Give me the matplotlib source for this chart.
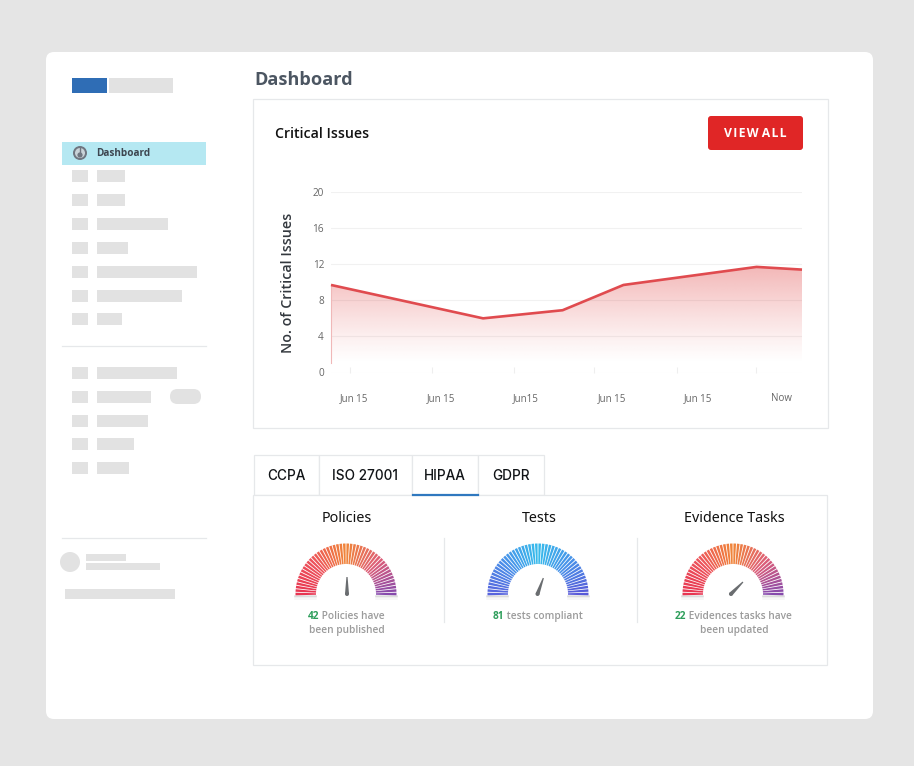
import numpy as np
import matplotlib
matplotlib.use("Agg")
import matplotlib.pyplot as plt
from matplotlib.collections import PolyCollection
from matplotlib.colors import LinearSegmentedColormap
from matplotlib.patches import Rectangle, FancyBboxPatch, Circle, Polygon

W, H = 914, 766

# line chart
line_x = [-0.234, 1.64, 2.62, 3.37, 5.01, 5.57]
line_y = [9.7, 6.0, 6.9, 9.7, 11.7, 11.4]
x_tick_pos = [0, 1.01, 2.02, 3.01, 4.03, 5.0]
x_label_pos = [0.05, 1.12, 2.17, 3.23, 4.29, 5.32]
x_labels = ["Jun 15", "Jun 15", "Jun15", "Jun 15", "Jun 15", "Now"]
y_ticks = [0, 4, 8, 12, 16, 20]

# tabs
tab_names = ["CCPA", "ISO 27001", "HIPAA", "GDPR"]
tab_edges = [254, 319, 412, 478, 544]

# gauges
gauge_titles = ["Policies", "Tests", "Evidence Tasks"]
gauge_centers = [346, 538, 733]
gauge_counts = ["42", "81", "22"]
gauge_line1 = [" Policies have", " tests compliant", " Evidences tasks have"]
gauge_line2 = ["been published", "", "been updated"]
needle_angles = [90, 70, 45]
warm = ["#e62a48", "#ec4a52", "#f07f2e", "#dc5570", "#8040a8"]
cool = ["#4f5cdc", "#3f8ce8", "#2cb8ea", "#3f8ce8", "#4f50d6"]
gauge_colors = [warm, cool, warm]

# sidebar placeholder bars, right edges
nav_top_y = [176, 200, 224, 248, 272, 296, 319]
nav_top_end = [125, 125, 168, 128, 197, 182, 122]
nav_low_y = [373, 397, 421, 444, 468]
nav_low_end = [177, 151, 148, 134, 129]

GREY = "#e2e2e2"
LINE = "#e6e8ea"

fig = plt.figure(figsize=(W / 100, H / 100), dpi=100, facecolor="#e5e5e5")
bg = fig.add_axes([0, 0, 1, 1])
bg.set_xlim(0, W)
bg.set_ylim(H, 0)
bg.axis("off")


def box(x0, y0, x1, y1, color=GREY, **kw):
    bg.add_patch(Rectangle((x0, y0), x1 - x0, y1 - y0, fc=color, ec="none", **kw))


def rounded(x0, y0, x1, y1, rad, color):
    bg.add_patch(FancyBboxPatch((x0, y0), x1 - x0, y1 - y0, boxstyle=f"round,pad=0,rounding_size={rad}",
                                fc=color, ec="none"))


def card(x0, y0, x1, y1):
    bg.add_patch(Rectangle((x0, y0), x1 - x0, y1 - y0, fc="white", ec=LINE, lw=0.9))


def run_text(x, y, parts, size):
    # text runs of different colour on one line, centred on x
    r = fig.canvas.get_renderer()
    items = [bg.text(0, y, s, color=c, fontsize=size, fontweight=w, family="Open Sans",
                     va="baseline", ha="left") for s, c, w in parts]
    widths = [t.get_window_extent(r).width for t in items]
    cur = x - sum(widths) / 2
    for t, w in zip(items, widths):
        t.set_x(cur)
        cur += w


# page panel
rounded(46, 52, 873, 719, 8, "white")

# sidebar
box(72, 78, 107, 93, "#2f6db5")
box(109, 78, 173, 93)
box(62, 142, 206, 165, "#b5e8f2")
bg.add_patch(Circle((80, 153), 7, fc="#6f7680", ec="none"))
bg.add_patch(Circle((80, 153), 5, fc="#c9d3d8", ec="none"))
bg.add_patch(Circle((80, 155), 2.6, fc="#6f7680", ec="none"))
bg.plot([80, 80], [148, 153], color="#6f7680", lw=1)
bg.text(96, 153.5, "Dashboard", fontsize=7.2, fontweight="bold", family="Open Sans",
        color="#3d4650", va="center")
for yc, end in zip(nav_top_y + nav_low_y, nav_top_end + nav_low_end):
    box(72, yc - 6, 88, yc + 6)
    box(97, yc - 6, end, yc + 6)
bg.plot([62, 206], [346, 346], color=LINE, lw=0.9)
bg.plot([62, 206], [538, 538], color=LINE, lw=0.9)
rounded(170, 389, 201, 404, 7.5, GREY)
bg.add_patch(Circle((70, 562), 10, fc=GREY, ec="none"))
box(86, 554, 126, 561)
box(86, 563, 160, 570)
box(65, 589, 175, 599)

# header and chart card
bg.text(254, 80, "Dashboard", fontsize=13.1, fontweight="bold", family="Open Sans",
        color="#4c5662", va="center")
card(253, 99, 828, 428)
bg.text(275, 133.5, "Critical Issues", fontsize=10.2, fontweight="semibold", family="Open Sans",
        color="#111111", va="center")
rounded(708, 116, 803, 150, 3, "#e02626")
bg.text(755.5, 133.5, "V I E W  A L L".replace(" ", "\u200a").replace("\u200a\u200a", " "),
        fontsize=8.8, fontweight="bold", family="Open Sans", color="white", ha="center", va="center")
bg.text(288, 282.5, "No. of Critical Issues", fontsize=10.3, fontweight="semibold", family="Open Sans",
        color="#33383e", rotation=90, ha="center", va="center")

# line chart axes, pixels 331..802 by 192..372.5
ax = fig.add_axes([331 / W, 1 - 372.5 / H, 471 / W, 180.5 / H])
ax.patch.set_alpha(0)
for s in ax.spines.values():
    s.set_visible(False)
ax.set_yticks(y_ticks)
ax.grid(axis="y", color="#f1f1f1", lw=0.8)
ax.set_axisbelow(True)
ax.tick_params(axis="y", length=0, pad=5, labelsize=7.2, labelcolor="#666666")
ax.set_xticks(x_label_pos)
ax.set_xticklabels(x_labels, fontsize=7, color="#666666", family="Open Sans")
ax.tick_params(axis="x", length=0, pad=15)
ax.set_xticks(x_tick_pos, minor=True)
ax.tick_params(axis="x", which="minor", length=4, color="#eeeeee", direction="in", width=0.8)
for t in ax.get_yticklabels():
    t.set_family("Open Sans")

# vertical fade under the line
grad = np.zeros((256, 2, 4))
grad[..., 0] = 0.87
grad[..., 1] = 0.20
grad[..., 2] = 0.20
grad[..., 3] = np.linspace(0.40, 0.0, 256)[:, None] ** 1.15 * 1.05
img = ax.imshow(grad, extent=(line_x[0], line_x[-1], 1.0, 12), aspect="auto", origin="upper", zorder=3)
poly_pts = list(zip(line_x, line_y)) + [(line_x[-1], 0), (line_x[0], 0)]
clip = Polygon(poly_pts, transform=ax.transData, fc="none", ec="none")
ax.add_patch(clip)
img.set_clip_path(clip)
ax.set_xlim(line_x[0], line_x[-1])
ax.set_ylim(0, 20)
ax.plot([line_x[0], line_x[0]], [1, line_y[0]], color="#f0b8b8", lw=0.8, zorder=4, clip_on=False)
ax.plot(line_x, line_y, color="#e04b4f", lw=1.9, zorder=5, solid_joinstyle="round",
        solid_capstyle="butt", clip_on=False)

# tabs
for x0, x1, name in zip(tab_edges[:-1], tab_edges[1:], tab_names):
    bg.add_patch(Rectangle((x0, 455), x1 - x0, 40, fc="white", ec=LINE, lw=0.9))
    bg.text((x0 + x1) / 2, 475.5, name, fontsize=9.8, fontweight="medium", family="Inter",
            color="#111417", ha="center", va="center")
card(253, 495, 827, 665)
bg.plot([413, 478], [494.5, 494.5], color="#2f78bf", lw=1.6, zorder=3)
bg.plot([444, 444], [538, 622], color=LINE, lw=0.9)
bg.plot([637, 637], [538, 622], color=LINE, lw=0.9)

# gauges
n_spokes = 46
for i, cx in enumerate(gauge_centers):
    cy = 594
    bg.text(cx + 1, 522.5, gauge_titles[i], fontsize=10.3, family="Noto Sans", color="#111111",
            ha="center", va="baseline")
    cmap = LinearSegmentedColormap.from_list("g", gauge_colors[i])
    ang = np.radians(np.linspace(180, 0, n_spokes))
    polys = []
    for a in ang:
        ux, uy = np.cos(a), -np.sin(a)
        px, py = -uy, ux
        polys.append([(cx + 30 * ux + 0.75 * px, cy + 30 * uy + 0.75 * py),
                      (cx + 50.5 * ux + 1.3 * px, cy + 50.5 * uy + 1.3 * py),
                      (cx + 50.5 * ux - 1.3 * px, cy + 50.5 * uy - 1.3 * py),
                      (cx + 30 * ux - 0.75 * px, cy + 30 * uy - 0.75 * py)])
    bg.add_collection(PolyCollection(polys, facecolors=cmap(np.linspace(0, 1, n_spokes)),
                                     edgecolors="none", alpha=0.95, zorder=3))
    # soft shadow under both feet
    for off, alpha in zip([1.5, 3, 4.5], [0.3, 0.2, 0.1]):
        bg.plot([cx - 51, cx - 30], [cy + off, cy + off], color="#999999", lw=1.1, alpha=alpha, zorder=2)
        bg.plot([cx + 30, cx + 51], [cy + off, cy + off], color="#999999", lw=1.1, alpha=alpha, zorder=2)

    a = np.radians(needle_angles[i])
    ux, uy = np.cos(a), -np.sin(a)
    px, py = -uy, ux
    bx, by = cx + 1 - 4.3 * ux, cy
    bg.add_patch(Polygon([(bx + 2 * px, by + 2 * py), (bx + 17 * ux + 0.6 * px, by + 17 * uy + 0.6 * py),
                          (bx + 17 * ux - 0.6 * px, by + 17 * uy - 0.6 * py),
                          (bx - 2 * px, by - 2 * py)], fc="#6a6d70", ec="none", zorder=4))
    bg.add_patch(Circle((bx, by), 2, fc="#6a6d70", ec="none", zorder=4))

    run_text(cx, 619, [(gauge_counts[i], "#2e9e5b", "bold"), (gauge_line1[i], "#9b9b9b", "semibold")], 7.3)
    if gauge_line2[i]:
        bg.text(cx + 1, 633.5, gauge_line2[i], fontsize=7.3, fontweight="semibold", family="Open Sans",
                color="#9b9b9b", ha="center", va="baseline")

fig.savefig("out.png", dpi=100, facecolor=fig.get_facecolor())
